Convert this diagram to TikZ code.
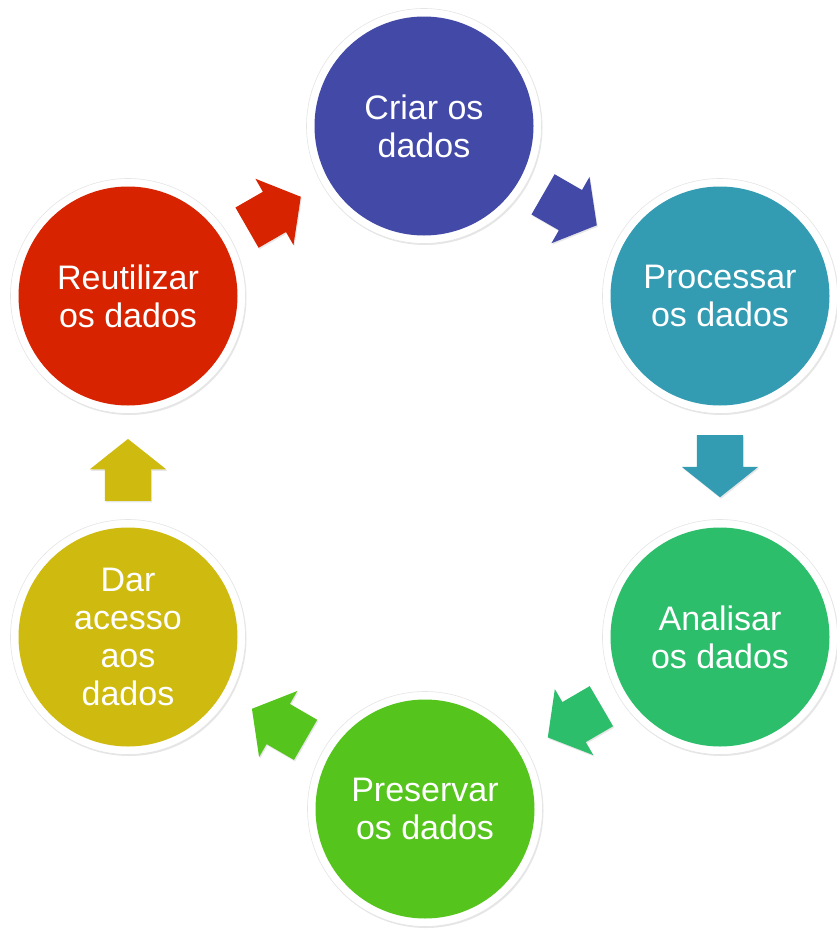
\documentclass[tikz,border=0pt]{standalone}
\usepackage{fontspec}
\setmainfont{Liberation Sans}
\usetikzlibrary{shapes.arrows, shadows}
\tikzset{
    Stage/.style = {
        circle, fill=white, draw=black!10, line width=0.6pt,
        minimum size=235pt, inner sep=0pt,
        align=center, text=white,
        font=\fontsize{34}{38}\selectfont,
        path picture={
            \fill[#1] (path picture bounding box.center) circle[radius=109.5pt];
            },
        drop shadow={shadow xshift=1pt, shadow yshift=-1.5pt, opacity=0.2}
    },
    Block/.style = {
        single arrow, fill=#1, draw=none,
        minimum height=62pt, inner xsep=0pt, inner ysep=23pt,
        single arrow head extend=15pt, single arrow tip angle=103,
        sloped, allow upside down, pos=0.39,
        drop shadow={shadow xshift=1pt, shadow yshift=-1.5pt, opacity=0.2}
    }
}
\definecolor{createFill}{HTML}{4249A7}
\definecolor{processFill}{HTML}{339CB3}
\definecolor{analyseFill}{HTML}{2DBE6B}
\definecolor{preserveFill}{HTML}{55C41D}
\definecolor{accessFill}{HTML}{CFBB0F}
\definecolor{reuseFill}{HTML}{D72300}

\begin{document}
\begin{tikzpicture}[x=1pt, y=-1pt]
    \useasboundingbox (0,0) rectangle (836,929);
    \node [Stage=createFill] (C) at (424,126) {Criar os\\dados};
    \node [Stage=processFill] (P) at (720,296) {Processar\\os dados};
    \node [Stage=analyseFill] (A) at (720,637) {Analisar\\os dados};
    \node [Stage=preserveFill] (S) at (425,809) {Preservar\\os dados};
    \node [Stage=accessFill] (D) at (128,637) {Dar\\acesso\\aos\\dados};
    \node [Stage=reuseFill] (R) at (128,296) {Reutilizar\\os dados};
    \path (C) -- node [Block=createFill] (CP) {} (P);
    \path (P) -- node [Block=processFill, pos=0.41] (PA) {} (A);
    \path (A) -- node [Block=analyseFill] (AS) {} (S);
    \path (S) -- node [Block=preserveFill] (SD) {} (D);
    \path (D) -- node [Block=accessFill, pos=0.38] (DR) {} (R);
    \path (R) -- node [Block=reuseFill] (RC) {} (C);
\end{tikzpicture}
\end{document}
